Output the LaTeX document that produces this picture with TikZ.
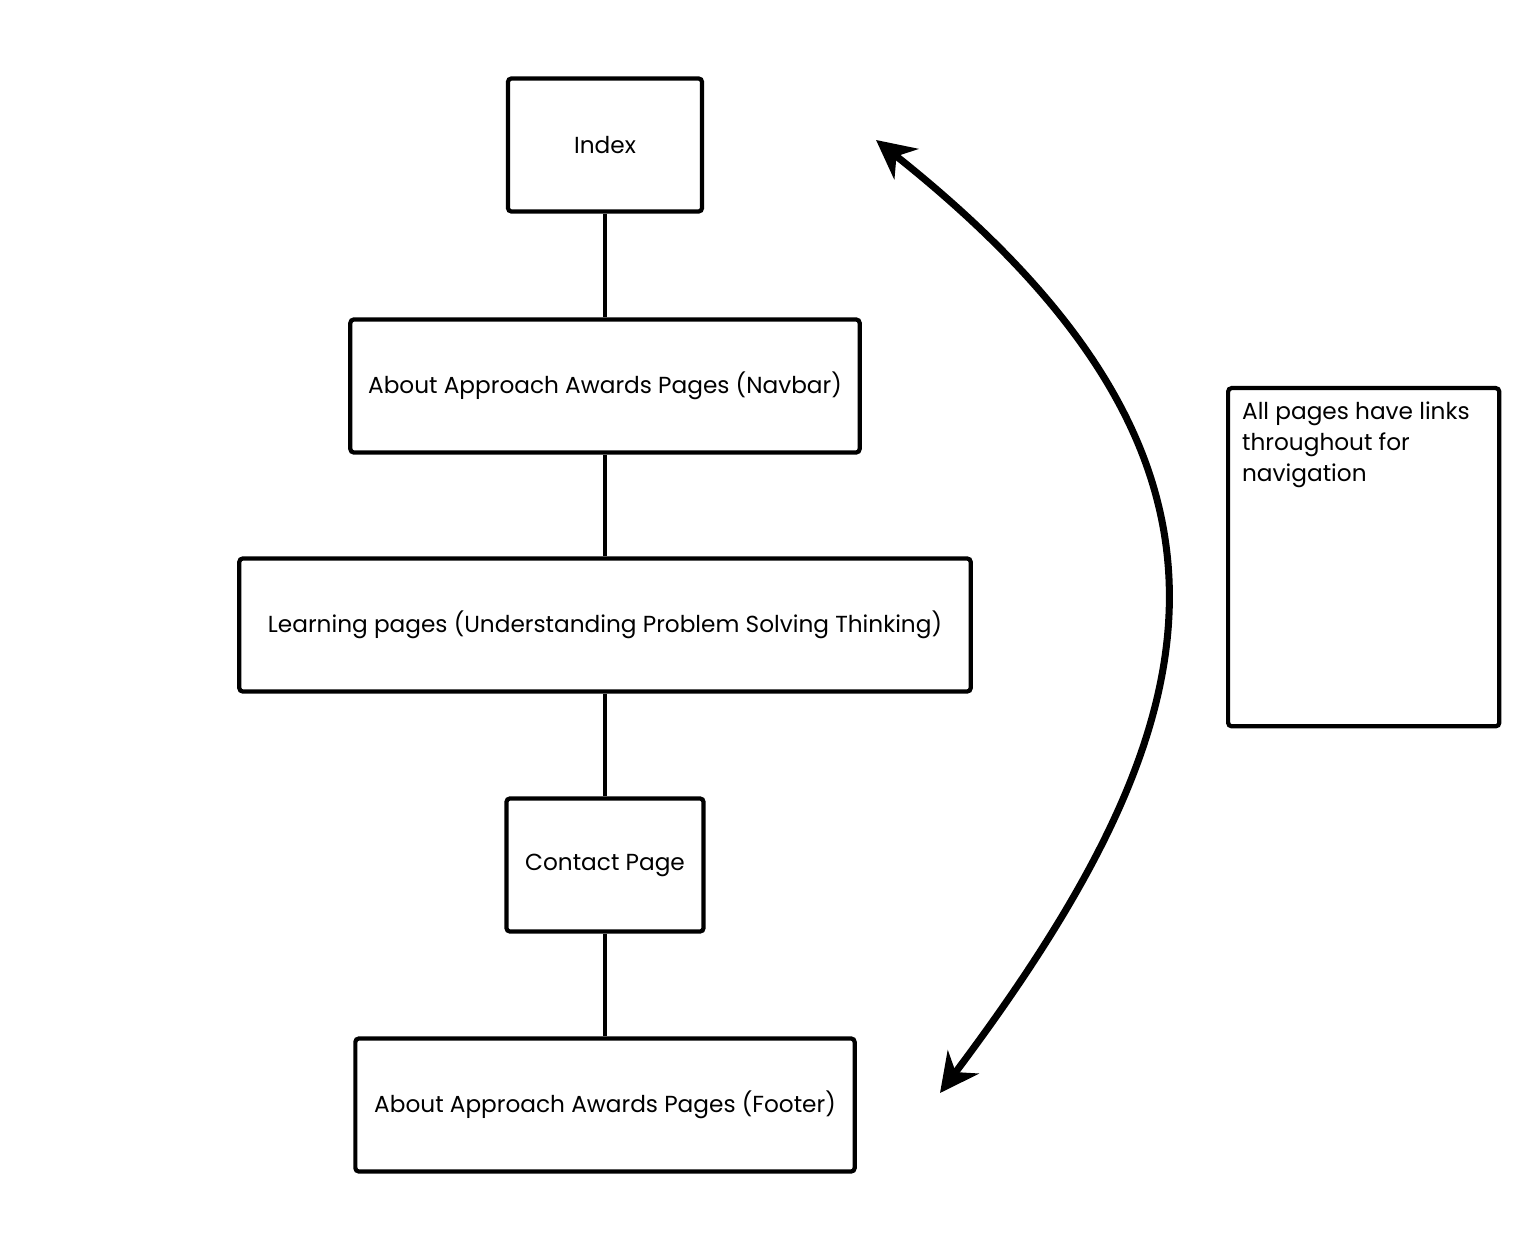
\documentclass[tikz,border=0pt]{standalone}
\usepackage{fontspec}
\setmainfont{Poppins}
\usepackage{tikz}
\usetikzlibrary{arrows.meta,positioning,calc}
\usepackage{xcolor}

\begin{document}
\begin{tikzpicture}[x=0.01cm,y=-0.01cm,>=Stealth,
    page/.style={draw,line width=1.2pt,rounded corners=1pt,minimum height=1.33cm,inner sep=0pt,font=\fontsize{6.6pt}{8.8pt}\selectfont}]
    \useasboundingbox (0,0) rectangle (1534,1240);
    \node[page,minimum width=1.94cm] (index) at (605,145) {Index};
    \node[page,minimum width=5.09cm] (navbar) at (605,386) {About Approach Awards Pages (Navbar)};
    \node[page,minimum width=7.31cm] (learning) at (605,625) {Learning pages (Understanding Problem Solving Thinking)};
    \node[page,minimum width=1.97cm] (contact) at (605,865) {Contact Page};
    \node[page,minimum width=4.99cm] (footer) at (605,1105) {About Approach Awards Pages (Footer)};
    \draw[line width=1pt] (index) -- (navbar);
    \draw[line width=1pt] (navbar) -- (learning);
    \draw[line width=1pt] (learning) -- (contact);
    \draw[line width=1pt] (contact) -- (footer);
    \node[page,anchor=north west,minimum height=0pt,inner xsep=0.14cm,inner ysep=0.14cm] (note) at (1226,386)
      {\parbox[t][3.1cm][t]{2.43cm}{\raggedright All pages have links throughout for navigation}};
    \coordinate (linkbot) at (940,1093);
    \coordinate (linktop) at (876,140);
    \draw[<->,line width=2pt,line cap=round,arrows={Stealth[length=11pt,width=11pt]-Stealth[length=11pt,width=11pt]}]
      (linkbot) .. controls (1217,724) and (1285,465) .. (linktop);
  \end{tikzpicture}
\end{document}
